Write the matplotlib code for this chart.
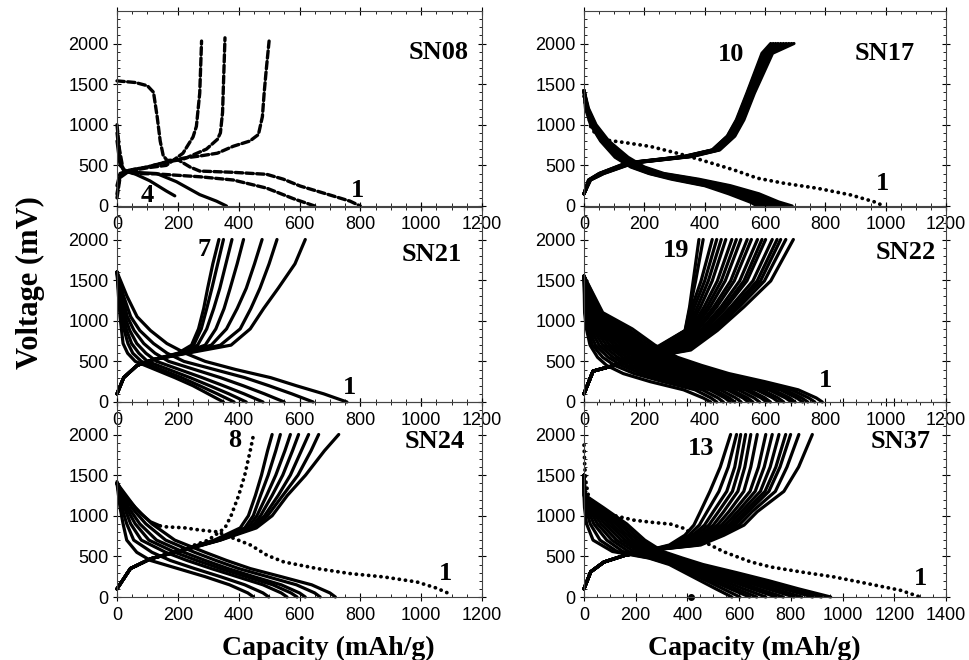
import numpy as np
import matplotlib.pyplot as plt
from matplotlib.ticker import MultipleLocator, FixedLocator

# ---------------- data (capacity in mAh/g, voltage in mV) ----------------
panel_names = ['SN08', 'SN17', 'SN21', 'SN22', 'SN24', 'SN37']
last_cycle_labels = ['4', '10', '7', '19', '8', '13']

# SN08: four cycles, each curve read point by point
sn08_dis_q = [[0, 60, 100, 120, 132, 142, 152, 165, 200, 240, 272, 380, 492, 547, 602, 711, 766, 800],
              [0, 8, 20, 53, 130, 272, 382, 492, 580, 650],
              [0, 10, 25, 80, 130, 195, 272, 327, 360],
              [0, 10, 30, 53, 108, 162, 190]]
sn08_dis_v = [[1540, 1520, 1480, 1400, 1100, 800, 620, 560, 570, 480, 430, 415, 390, 330, 246, 123, 60, 0],
              [1000, 700, 450, 400, 395, 360, 320, 220, 90, 0],
              [900, 550, 420, 410, 400, 300, 140, 60, 0],
              [800, 500, 420, 405, 310, 185, 125]]
sn08_chg_q = [[0, 10, 40, 100, 160, 220, 272, 330, 382, 437, 465, 478, 484, 490, 500],
              [0, 10, 40, 100, 160, 217, 294, 330, 340, 347, 350, 355],
              [0, 10, 40, 100, 162, 217, 250, 261, 272, 278]]
sn08_chg_v = [[250, 400, 440, 480, 540, 590, 615, 650, 735, 800, 880, 1100, 1400, 1650, 2030],
              [150, 380, 440, 480, 540, 575, 700, 820, 900, 1150, 1500, 2070],
              [100, 350, 430, 470, 500, 650, 850, 980, 1390, 2030]]

# SN17
sn17_dis1_q = [0, 5, 11, 22, 39, 66, 133, 221, 309, 387, 497, 575, 663, 774, 884, 961, 995]
sn17_dis1_v = [1350, 1250, 1185, 980, 880, 815, 782, 732, 650, 568, 444, 342, 280, 218, 136, 53, 0]
sn17_dis_v = [1420, 1200, 1000, 800, 600, 480, 400, 330, 250, 150, 50, 0]
sn17_dis_q = [[0, 15, 40, 82, 146, 200, 265, 380, 485, 580, 645, 690],
              [0, 13, 37, 78, 140, 194, 257, 368, 474, 568, 634, 677],
              [0, 12, 35, 74, 134, 187, 250, 356, 462, 556, 622, 664],
              [0, 11, 32, 70, 128, 181, 243, 345, 450, 544, 609, 650],
              [0, 10, 30, 67, 123, 176, 237, 334, 440, 532, 597, 637],
              [0, 9, 28, 63, 117, 170, 230, 322, 428, 520, 584, 624],
              [0, 8, 26, 60, 112, 165, 224, 310, 416, 507, 570, 609],
              [0, 7, 24, 57, 107, 160, 219, 300, 407, 494, 558, 592],
              [0, 5, 22, 55, 103, 155, 215, 290, 400, 480, 550, 575]]
sn17_chg_v = [150, 320, 400, 530, 610, 690, 860, 1060, 1390, 1880, 2000]
sn17_chg_q = [[0, 22, 66, 166, 360, 450, 500, 530, 565, 625, 696],
              [0, 21, 64, 163, 356, 447, 497, 527, 562, 620, 688],
              [0, 20, 62, 160, 352, 444, 494, 524, 559, 616, 679],
              [0, 19, 60, 157, 348, 440, 490, 521, 556, 612, 670],
              [0, 18, 58, 154, 345, 437, 487, 518, 553, 608, 661],
              [0, 18, 56, 151, 342, 434, 484, 515, 550, 604, 652],
              [0, 17, 54, 148, 339, 431, 481, 512, 547, 600, 643],
              [0, 16, 52, 145, 336, 428, 478, 509, 544, 596, 635],
              [0, 15, 51, 142, 333, 426, 476, 507, 542, 593, 627],
              [0, 15, 50, 140, 330, 425, 475, 505, 540, 590, 619]]

# SN21
sn21_dis_v = [1600, 1300, 1050, 880, 720, 600, 500, 400, 300, 200, 100, 0]
sn21_dis_q = [[0, 33, 66, 110, 164, 225, 290, 390, 505, 590, 680, 756],
              [0, 22, 45, 75, 120, 165, 220, 320, 420, 500, 575, 645],
              [0, 17, 34, 56, 88, 125, 170, 255, 340, 415, 485, 550],
              [0, 13, 26, 42, 65, 95, 130, 205, 280, 350, 418, 480],
              [0, 10, 20, 32, 48, 72, 100, 170, 240, 305, 368, 425],
              [0, 7, 14, 24, 36, 52, 80, 145, 212, 272, 330, 385],
              [0, 5, 10, 15, 20, 35, 60, 125, 190, 250, 300, 350]]
sn21_chg_v = [100, 300, 450, 520, 600, 700, 900, 1150, 1400, 1700, 2000]
sn21_chg_q = [[0, 22, 66, 120, 230, 375, 438, 482, 530, 585, 619],
              [0, 22, 66, 119, 225, 340, 405, 440, 470, 500, 526],
              [0, 22, 66, 118, 220, 310, 360, 395, 425, 452, 477],
              [0, 22, 66, 118, 215, 290, 325, 352, 372, 395, 416],
              [0, 22, 66, 117, 210, 265, 295, 318, 338, 358, 378],
              [0, 22, 66, 116, 205, 252, 277, 295, 312, 331, 350],
              [0, 22, 66, 115, 200, 245, 268, 285, 298, 315, 335]]

# SN22
sn22_dis_v = [1550, 1100, 900, 700, 550, 450, 350, 250, 150, 50, 0]
sn22_dis_q = [[0, 62, 160, 235, 310, 390, 480, 600, 710, 770, 790],
              [0, 58, 145, 222, 296, 372, 462, 580, 688, 745, 765],
              [0, 52, 132, 208, 282, 355, 445, 560, 668, 722, 742],
              [0, 48, 120, 196, 268, 340, 428, 542, 650, 705, 725],
              [0, 44, 110, 183, 255, 325, 410, 522, 628, 682, 700],
              [0, 40, 100, 170, 240, 310, 394, 505, 612, 668, 688],
              [0, 36, 90, 158, 226, 294, 376, 486, 590, 643, 662],
              [0, 33, 82, 146, 212, 278, 360, 468, 572, 626, 645],
              [0, 30, 74, 134, 198, 262, 342, 448, 548, 600, 618],
              [0, 27, 66, 122, 184, 246, 326, 430, 534, 587, 605],
              [0, 24, 58, 110, 170, 230, 308, 410, 512, 564, 582],
              [0, 21, 50, 98, 156, 214, 290, 390, 490, 542, 560],
              [0, 18, 43, 86, 142, 198, 272, 372, 475, 527, 545],
              [0, 15, 36, 74, 128, 180, 252, 350, 452, 503, 521],
              [0, 12, 29, 62, 112, 162, 232, 330, 432, 482, 500],
              [0, 9, 22, 50, 96, 144, 212, 310, 416, 467, 485],
              [0, 6, 16, 38, 80, 124, 190, 288, 392, 444, 462],
              [0, 4, 11, 28, 62, 102, 166, 262, 368, 421, 440],
              [0, 2, 8, 20, 45, 75, 130, 220, 330, 395, 420]]
sn22_chg_v = [100, 380, 440, 540, 640, 880, 1170, 1490, 2000]
sn22_chg_q = [[0, 30, 90, 200, 354, 442, 530, 619, 694],
              [0, 30, 90, 198, 345, 432, 515, 598, 669],
              [0, 30, 90, 196, 338, 425, 505, 585, 652],
              [0, 30, 90, 195, 330, 418, 496, 574, 640],
              [0, 30, 90, 194, 322, 410, 486, 560, 624],
              [0, 30, 90, 192, 314, 400, 472, 540, 602],
              [0, 30, 90, 190, 306, 394, 464, 530, 590],
              [0, 30, 90, 188, 298, 386, 454, 516, 575],
              [0, 30, 90, 186, 290, 376, 440, 498, 555],
              [0, 30, 90, 184, 282, 370, 430, 486, 541],
              [0, 30, 90, 182, 274, 362, 418, 468, 520],
              [0, 30, 90, 180, 266, 356, 408, 455, 505],
              [0, 30, 90, 178, 258, 350, 398, 442, 490],
              [0, 30, 90, 176, 250, 345, 386, 425, 470],
              [0, 30, 90, 175, 244, 341, 376, 412, 455],
              [0, 30, 90, 174, 238, 338, 366, 400, 440],
              [0, 30, 90, 172, 234, 337, 358, 388, 425],
              [0, 30, 90, 171, 230, 336, 352, 370, 395],
              [0, 30, 90, 170, 225, 335, 350, 362, 381]]

# SN24
sn24_dis1_q = [0, 20, 44, 80, 110, 142, 160, 220, 275, 330, 385, 440, 493, 548, 658, 767, 877, 986, 1050, 1090]
sn24_dis1_v = [1420, 1250, 1170, 1020, 926, 875, 864, 852, 823, 802, 720, 638, 514, 432, 350, 288, 247, 185, 110, 45]
sn24_dis_v = [1400, 1100, 900, 700, 550, 450, 350, 250, 150, 50, 0]
sn24_dis_q = [[0, 60, 115, 190, 290, 360, 438, 540, 640, 700, 718],
              [0, 48, 95, 160, 255, 325, 400, 495, 590, 650, 668],
              [0, 38, 75, 130, 220, 290, 365, 450, 540, 600, 619],
              [0, 30, 60, 105, 190, 262, 340, 425, 512, 572, 592],
              [0, 24, 45, 80, 160, 230, 310, 395, 480, 540, 559],
              [0, 16, 32, 55, 115, 175, 255, 340, 420, 480, 499],
              [0, 10, 20, 32, 65, 110, 200, 290, 370, 430, 449]]
sn24_chg_v = [100, 350, 470, 580, 700, 850, 1000, 1250, 1500, 1800, 2000]
sn24_chg_q = [[0, 44, 110, 225, 340, 458, 510, 560, 620, 682, 729],
              [0, 44, 110, 220, 338, 448, 495, 545, 595, 638, 663],
              [0, 44, 110, 220, 336, 445, 485, 530, 570, 606, 630],
              [0, 44, 110, 219, 333, 440, 472, 510, 545, 577, 597],
              [0, 44, 110, 218, 330, 430, 460, 492, 522, 552, 570],
              [0, 44, 110, 217, 325, 420, 448, 472, 497, 522, 537],
              [0, 44, 110, 215, 320, 405, 432, 455, 475, 495, 510]]
sn24_chg8_q = [0, 44, 110, 210, 300, 355, 375, 400, 420, 438, 449]

# SN37
sn37_dis1_q = [0, 3, 8, 20, 60, 120, 193, 260, 335, 387, 464, 541, 645, 722, 838, 967, 1096, 1225, 1300]
sn37_dis1_v = [1870, 1600, 1400, 1200, 1080, 1000, 946, 920, 897, 844, 679, 556, 432, 370, 309, 247, 165, 82, 0]
sn37_dis_v = [1500, 1250, 1100, 900, 700, 560, 480, 400, 300, 200, 100, 0]
sn37_dis_q = [[0, 5, 75, 165, 235, 305, 380, 460, 590, 715, 830, 954],
              [0, 4, 66, 150, 220, 290, 365, 445, 570, 690, 800, 918],
              [0, 4, 58, 136, 205, 275, 352, 430, 550, 665, 772, 884],
              [0, 3, 50, 122, 190, 258, 338, 415, 528, 636, 738, 842],
              [0, 3, 43, 108, 175, 242, 325, 402, 510, 612, 710, 812],
              [0, 2, 36, 94, 160, 226, 310, 388, 488, 586, 676, 771],
              [0, 2, 30, 80, 144, 210, 298, 375, 470, 563, 650, 742],
              [0, 2, 24, 66, 126, 192, 285, 362, 450, 538, 618, 703],
              [0, 1, 18, 52, 108, 172, 272, 352, 432, 515, 590, 668],
              [0, 1, 12, 38, 88, 150, 262, 345, 418, 494, 566, 640],
              [0, 1, 7, 24, 62, 128, 255, 340, 404, 474, 538, 603],
              [0, 0, 2, 10, 35, 110, 250, 330, 390, 450, 510, 572]]
sn37_chg_v = [100, 310, 430, 510, 580, 640, 760, 885, 1050, 1300, 1600, 2000]
sn37_chg_q = [[0, 26, 77, 155, 270, 451, 541, 619, 670, 773, 830, 883],
              [0, 26, 77, 155, 268, 440, 528, 600, 650, 740, 785, 831],
              [0, 26, 77, 155, 267, 430, 515, 585, 635, 715, 758, 799],
              [0, 26, 77, 155, 266, 420, 505, 572, 622, 700, 742, 780],
              [0, 26, 77, 155, 265, 410, 494, 560, 608, 682, 720, 754],
              [0, 26, 77, 155, 264, 400, 483, 546, 594, 662, 697, 728],
              [0, 26, 77, 155, 263, 390, 472, 532, 578, 642, 675, 703],
              [0, 26, 77, 155, 262, 380, 460, 516, 560, 618, 645, 670],
              [0, 26, 77, 155, 260, 370, 447, 500, 540, 595, 622, 645],
              [0, 26, 77, 155, 259, 360, 433, 483, 520, 574, 602, 625],
              [0, 26, 77, 155, 258, 350, 420, 466, 500, 552, 583, 606],
              [0, 26, 77, 155, 257, 340, 405, 446, 476, 522, 558, 590],
              [0, 26, 77, 155, 255, 330, 390, 425, 450, 487, 527, 567]]
sn37_stray_q = [413]
sn37_stray_v = [0]

# ---------------- styling ----------------
plt.rcParams['font.family'] = ['Liberation Sans', 'DejaVu Sans']
SERIF = ['Liberation Serif', 'DejaVu Serif']

solid = dict(color='black', lw=2.3, solid_capstyle='round', solid_joinstyle='round', clip_on=False)
dotted = dict(color='black', lw=2.7, ls=(0, (0.05, 1.6)), dash_capstyle='round', clip_on=False)
dashed = dict(color='black', lw=2.4, ls=(0, (2.2, 1.0)), dash_capstyle='round', clip_on=False)

fig = plt.figure(figsize=(9.69, 6.6), dpi=100)

ax_w_left, ax_w_right, ax_h = 365 / 969, 362 / 969, 195 / 660
lefts = [117 / 969, 584 / 969]
bottoms = [1 - 206 / 660, 1 - 402 / 660, 1 - 597 / 660]

axes = []
for r in range(3):
    for c in range(2):
        ax = fig.add_axes([lefts[c], bottoms[r], ax_w_left if c == 0 else ax_w_right, ax_h])
        ax.patch.set_visible(False)  # keep the tick labels of the panel above visible
        axes.append(ax)


def curves(ax, q_rows, v, style):
    for q in q_rows:
        ax.plot(q, v, **style)


# SN08
ax = axes[0]
for i, (q, v) in enumerate(zip(sn08_dis_q, sn08_dis_v)):
    ax.plot(q, v, **(dashed if i < 2 else solid))
for q, v in zip(sn08_chg_q, sn08_chg_v):
    ax.plot(q, v, **dashed)

# SN17
ax = axes[1]
curves(ax, sn17_dis_q, sn17_dis_v, solid)
curves(ax, sn17_chg_q, sn17_chg_v, solid)
ax.plot(sn17_dis1_q, sn17_dis1_v, **dotted)

# SN21
ax = axes[2]
curves(ax, sn21_dis_q, sn21_dis_v, solid)
curves(ax, sn21_chg_q, sn21_chg_v, solid)

# SN22
ax = axes[3]
curves(ax, sn22_dis_q, sn22_dis_v, solid)
curves(ax, sn22_chg_q, sn22_chg_v, solid)

# SN24
ax = axes[4]
curves(ax, sn24_dis_q, sn24_dis_v, solid)
curves(ax, sn24_chg_q, sn24_chg_v, solid)
ax.plot(sn24_chg8_q, sn24_chg_v, **dotted)
ax.plot(sn24_dis1_q[:6], sn24_dis1_v[:6], **solid)
ax.plot(sn24_dis1_q[5:], sn24_dis1_v[5:], **dotted)

# SN37
ax = axes[5]
curves(ax, sn37_dis_q, sn37_dis_v, solid)
curves(ax, sn37_chg_q, sn37_chg_v, solid)
ax.plot(sn37_dis1_q, sn37_dis1_v, **dotted)
ax.plot(sn37_stray_q, sn37_stray_v, 'o', color='black', ms=4, clip_on=False)

# labels inside panels
name_pos = [(1059, 1889), (998, 1876), (1036, 1816), (1068, 1840), (1045, 1913), (1226, 1913)]
one_pos = [(792, 185), (988, 272), (763, 184), (799, 270), (1079, 284), (1303, 222)]
last_pos = [(98, 135), (487, 1864), (286, 1877), (306, 1865), (386, 1926), (452, 1827)]

for i, ax in enumerate(axes):
    xmax = 1400 if i == 5 else 1200
    ax.set_xlim(0, xmax)
    ax.set_ylim(0, 2400)
    ax.xaxis.set_major_locator(MultipleLocator(200))
    ax.xaxis.set_minor_locator(MultipleLocator(50))
    ax.yaxis.set_major_locator(FixedLocator([0, 500, 1000, 1500, 2000]))
    ax.yaxis.set_minor_locator(MultipleLocator(100))
    ax.tick_params(which='major', direction='inout', length=6, width=0.8,
                   labelsize=13, top=True, right=True, pad=3)
    ax.tick_params(which='minor', direction='in', length=2.5, width=0.6, top=True, right=True)
    ax.tick_params(axis='x', which='major', pad=4)
    for s in ax.spines.values():
        s.set_linewidth(0.8)
        s.set_color('#444444')
    ax.text(*name_pos[i], panel_names[i], family=SERIF, weight='bold', fontsize=19,
            ha='center', va='center')
    ax.text(*one_pos[i], '1', family=SERIF, weight='bold', fontsize=19, ha='center', va='center')
    ax.text(*last_pos[i], last_cycle_labels[i], family=SERIF, weight='bold', fontsize=19,
            ha='center', va='center')

fig.text(30 / 969, 1 - 283 / 660, 'Voltage (mV)', family=SERIF, weight='bold', fontsize=22,
         rotation=90, ha='center', va='center')
fig.text(328 / 969, 1 - 648 / 660, 'Capacity (mAh/g)', family=SERIF, weight='bold', fontsize=20,
         ha='center', va='center')
fig.text(754 / 969, 1 - 648 / 660, 'Capacity (mAh/g)', family=SERIF, weight='bold', fontsize=20,
         ha='center', va='center')

fig.savefig('out.png', dpi=100, facecolor='white')
